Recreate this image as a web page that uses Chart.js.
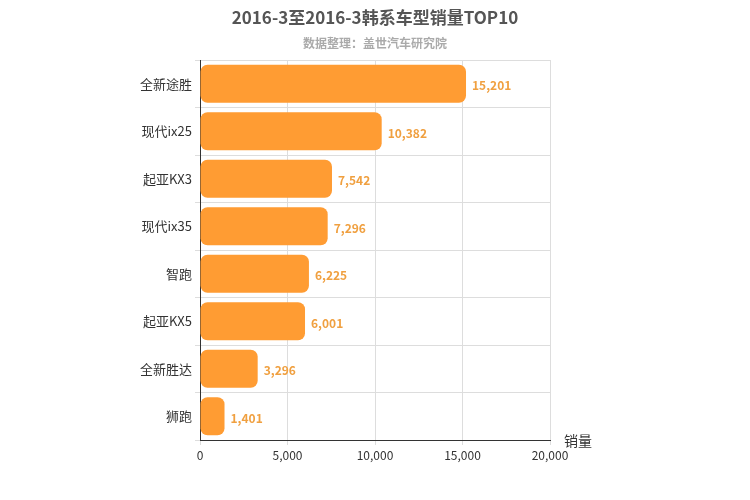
<!DOCTYPE html>
<html>
<head>
<meta charset="utf-8">
<script src="https://cdn.jsdelivr.net/npm/chart.js@4"></script>
<style>
  body { margin: 0; background: #fff; }
  #wrap { width: 750px; height: 500px; }
</style>
</head>
<body>
<div id="wrap"><canvas id="chart"></canvas></div>
<script>
const models = ["全新途胜", "现代ix25", "起亚KX3", "现代ix35", "智跑", "起亚KX5", "全新胜达", "狮跑"];
const sales = [15201, 10382, 7542, 7296, 6225, 6001, 3296, 1401];
const xTicks = [0, 5000, 10000, 15000, 20000];

const FONT = "'Microsoft YaHei', 'Noto Sans CJK SC', sans-serif";

// title, subtitle, axis name and value labels
const extras = {
    id: "extras",
    afterDatasetsDraw(chart) {
        const ctx = chart.ctx;
        const area = chart.chartArea;
        ctx.save();
        ctx.textAlign = "center";
        ctx.textBaseline = "middle";
        ctx.fillStyle = "#555";
        ctx.font = "bold 17px " + FONT;
        ctx.fillText("2016-3至2016-3韩系车型销量TOP10", 375, 18);
        ctx.fillStyle = "#aaa";
        ctx.font = "bold 12px " + FONT;
        ctx.fillText("数据整理：盖世汽车研究院", 375, 43);

        ctx.fillStyle = "#333";
        ctx.font = "14px " + FONT;
        ctx.textAlign = "left";
        ctx.fillText("销量", area.right + 14, area.bottom + 1);

        ctx.fillStyle = "#f0a040";
        ctx.font = "bold 12px " + FONT;
        chart.getDatasetMeta(0).data.forEach((bar, i) => {
            ctx.fillText(sales[i].toLocaleString("en-US"), bar.x + 6, bar.y + 2);
        });
        ctx.restore();
    }
};

new Chart(document.getElementById("chart"), {
    type: "bar",
    data: {
        labels: models,
        datasets: [{
            data: sales,
            backgroundColor: "#ff9c33",
            borderRadius: 7,
            borderSkipped: false,
            barPercentage: 0.8,
            categoryPercentage: 1
        }]
    },
    options: {
        indexAxis: "y",
        responsive: true,
        maintainAspectRatio: false,
        animation: false,
        layout: { padding: { left: 0, right: 200, top: 60, bottom: 0 } },
        plugins: { legend: { display: false }, tooltip: { enabled: false } },
        scales: {
            x: {
                min: 0,
                max: 20000,
                afterBuildTicks(scale) { scale.ticks = xTicks.map(v => ({ value: v })); },
                afterFit(scale) { scale.height = 60; },
                grid: { color: "#ddd", tickLength: 5 },
                border: { color: "#333" },
                ticks: {
                    color: "#333",
                    font: { size: 12, family: FONT },
                    callback: v => v.toLocaleString("en-US")
                }
            },
            y: {
                afterFit(scale) { scale.width = 200; },
                grid: { color: "#ddd", offset: true, tickLength: 5 },
                border: { color: "#333" },
                ticks: { color: "#333", font: { size: 13, family: FONT } }
            }
        }
    },
    plugins: [extras]
});
</script>
</body>
</html>
